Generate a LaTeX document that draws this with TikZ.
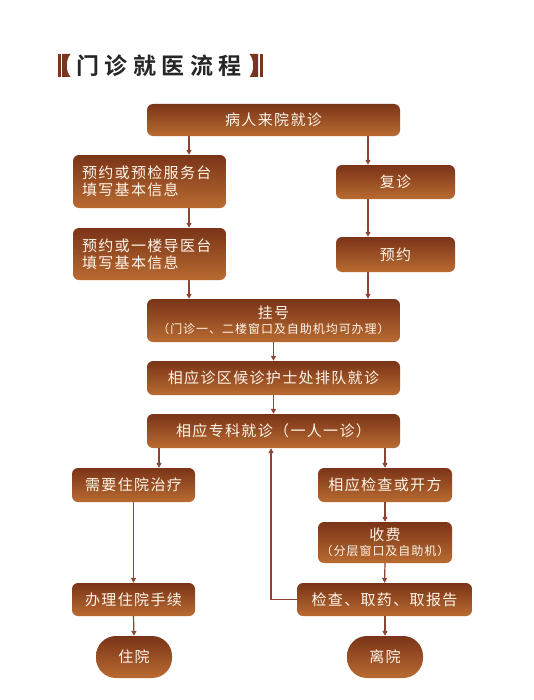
\documentclass[tikz,border=0pt]{standalone}
\usepackage{fontspec}
\usetikzlibrary{arrows.meta,calc}
\newfontfamily\boxfont[LetterSpace=9]{Noto Sans CJK SC}
\newfontfamily\smallfont[LetterSpace=8]{Noto Sans CJK SC}
\newfontfamily\titlefont[LetterSpace=24]{Noto Sans CJK SC Bold}
\definecolor{btop}{HTML}{7A3418}
\definecolor{bbot}{HTML}{B96B31}
\definecolor{lnc}{HTML}{8A4535}
\definecolor{txt}{HTML}{FFF6EA}
\definecolor{brk}{HTML}{7A3520}
\tikzset{
  box/.style={rounded corners=6bp, top color=btop, bottom color=bbot, draw=none,
    text=txt, font=\boxfont\fontsize{15bp}{18bp}\selectfont, inner sep=0pt, align=center},
  endbox/.style={box, rounded corners=20bp},
  arr/.style={draw=lnc, line width=1.2bp, -{Triangle[length=5bp,width=5bp]}},
  ln/.style={draw=lnc, line width=1.2bp}
}
\begin{document}
\begin{tikzpicture}[x=1bp,y=-1bp]
\useasboundingbox (0,0) rectangle (534,700);
% title
\fill[brk] (57.5,54) rectangle (60.5,77);
\fill[brk] (62,54) -- (70.5,54) .. controls (65.5,60) and (65.5,71) .. (70.5,77) -- (62,77) -- cycle;
\node[font=\titlefont\fontsize{23bp}{26bp}\selectfont, text=black!85, anchor=west, inner sep=0pt] (title) at (76,66) {门诊就医流程};
\fill[brk] (260,54) rectangle (263,77);
\fill[brk] (258,54) -- (249.5,54) .. controls (254.5,60) and (254.5,71) .. (249.5,77) -- (258,77) -- cycle;
% boxes
\node[box, minimum width=253bp, minimum height=32bp] (b1) at (273.5,120) {病人来院就诊};
\node[box, minimum width=153bp, minimum height=53bp, text width=135bp, align=left] (b2) at (149.5,181.5) {预约或预检服务台\\[-1bp]填写基本信息};
\node[box, minimum width=153bp, minimum height=52bp, text width=135bp, align=left] (b3) at (149.5,254) {预约或一楼导医台\\[-1bp]填写基本信息};
\node[box, minimum width=119bp, minimum height=34bp] (fz) at (395.5,182) {复诊};
\node[box, minimum width=119bp, minimum height=35bp] (yy) at (395.5,254.5) {预约};
\node[box, minimum width=253bp, minimum height=43bp] (gh) at (273.5,320.5) {挂号\\[-3bp]{\smallfont\fontsize{12bp}{14bp}\selectfont （门诊一、二楼窗口及自助机均可办理）}};
\node[box, minimum width=253bp, minimum height=34bp] (hz) at (273.5,378) {相应诊区候诊护士处排队就诊};
\node[box, minimum width=253bp, minimum height=34bp] (zk) at (273.5,431) {相应专科就诊（一人一诊）};
\node[box, minimum width=123bp, minimum height=34bp] (xy) at (133.5,485) {需要住院治疗};
\node[box, minimum width=134bp, minimum height=34bp] (jc) at (385,485) {相应检查或开方};
\node[box, minimum width=134bp, minimum height=41bp] (sf) at (385,542.5) {收费\\[-3bp]{\smallfont\fontsize{12bp}{14bp}\selectfont （分层窗口及自助机）}};
\node[box, minimum width=175bp, minimum height=33bp] (qy) at (384.5,599.5) {检查、取药、取报告};
\node[box, minimum width=123bp, minimum height=33bp] (bl) at (133.5,599.5) {办理住院手续};
\node[endbox, minimum width=76bp, minimum height=42bp] (zy) at (134,657) {住院};
\node[endbox, minimum width=76bp, minimum height=42bp] (ly) at (385,657) {离院};
% helper x positions
\coordinate (lx) at (189,0);
\coordinate (rx) at (368,0);
\coordinate (ax) at (159,0);
\coordinate (bx) at (271,0);
% connectors
\draw[arr] (b1.south -| lx) -- (b2.north -| lx);
\draw[arr] (b2.south -| lx) -- (b3.north -| lx);
\draw[arr] (b3.south -| lx) -- (gh.north -| lx);
\draw[arr] (b1.south -| rx) -- (fz.north -| rx);
\draw[arr] (fz.south -| rx) -- (yy.north -| rx);
\draw[arr] (yy.south -| rx) -- (gh.north -| rx);
\draw[arr] (gh.south) -- (hz.north);
\draw[arr] (hz.south) -- (zk.north);
\draw[arr] (zk.south -| ax) -- (xy.north -| ax);
\draw[arr] (zk.south -| jc) -- (jc.north);
\draw[arr] (xy.south) -- (bl.north);
\draw[arr] (jc.south) -- (sf.north);
\draw[arr] (sf.south) -- (qy.north);
\draw[arr] (bl.south) -- (zy.north);
\draw[arr] (qy.south -| ly) -- (ly.north);
\draw[arr] (qy.west) -- (qy.west -| bx) -- (zk.south -| bx);
\end{tikzpicture}
\end{document}
